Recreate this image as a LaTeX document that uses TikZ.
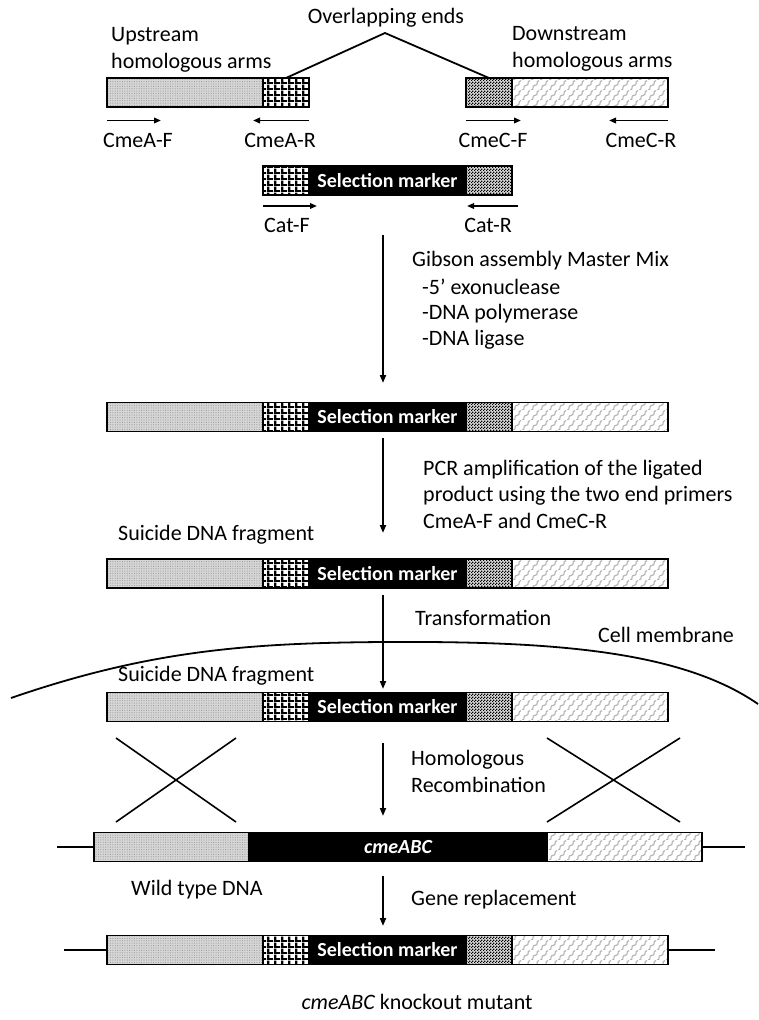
\documentclass[tikz,border=0pt]{standalone}
\usepackage{fontspec}
\setmainfont{Carlito}
\usetikzlibrary{arrows.meta,patterns.meta}

% white squares in a black grid (overlap with the upstream arm)
\tikzdeclarepattern{name=gridsq, type=uncolored,
  bounding box={(0pt,0pt) and (6.5pt,6pt)}, tile size={(6.5pt,6pt)},
  code={\fill (0pt,0pt) rectangle (6.5pt,2.2pt); \fill (0pt,0pt) rectangle (2.4pt,6pt);}}
% fine checkerboard (overlap with the downstream arm)
\tikzdeclarepattern{name=finechk, type=uncolored,
  bounding box={(0pt,0pt) and (3pt,3pt)}, tile size={(3pt,3pt)},
  code={\fill (0pt,0pt) rectangle (1.5pt,1.5pt); \fill (1.5pt,1.5pt) rectangle (3pt,3pt);}}
% wavy scales (downstream arm)
\tikzdeclarepattern{name=scales, type=uncolored,
  bounding box={(0pt,0pt) and (9pt,10pt)}, tile size={(9pt,10pt)},
  code={\draw[line width=1.2pt] (0pt,0pt) .. controls (4.5pt,0pt) and (0pt,5pt) .. (4.5pt,5pt)
        .. controls (9pt,5pt) and (4.5pt,10pt) .. (9pt,10pt);}}

\begin{document}
\begin{tikzpicture}[x=1pt,y=-1pt,
  txt/.style={font=\fontsize{22pt}{26.5pt}\selectfont, inner sep=0pt, align=left},
  seg/.style={draw, line width=1.8pt, inner sep=0pt, outer sep=0pt, minimum height=29pt, anchor=west},
  uparm/.style={seg, preaction={fill=gray!32}, pattern={Dots[distance=2.4pt,radius=0.55pt]}, pattern color=gray!80},
  ovla/.style={seg, preaction={fill=white}, pattern=gridsq, pattern color=black, minimum width=46pt},
  ovlc/.style={seg, preaction={fill=gray!30}, pattern=finechk, pattern color=black, minimum width=46pt},
  dnarm/.style={seg, preaction={fill=white}, pattern=scales, pattern color=gray!60},
  marker/.style={seg, fill=black, text=white, font=\fontsize{20pt}{24pt}\selectfont\bfseries},
  primer/.style={line width=1.8pt, -{Triangle[length=7pt,width=5.5pt]}},
  flow/.style={line width=1.8pt, -{Triangle[length=8pt,width=6pt]}},
  thinline/.style={line width=1.6pt},
]
\useasboundingbox (0,0) rectangle (759,1020);

% ---------- PCR fragments ----------
\node[uparm, minimum width=156pt] (r0u) at (107,92.5) {};
\node[ovla] (r0a) at (263,92.5) {};
\node[ovlc] (r0c) at (466,92.5) {};
\node[dnarm, minimum width=156pt] (r0d) at (512,92.5) {};

\node[txt, anchor=west] (upl) at (111,50) {Upstream\\homologous arms};
\node[txt, anchor=west] (dnl) at (512,49) {Downstream\\homologous arms};
\node[txt] (ovl) at (386,18) {Overlapping ends};
\coordinate (apex) at (385,33);
\draw[line width=1.8pt] (r0a.north) -- (apex) -- (r0c.north);

\draw[primer] ([yshift=-13.5pt]r0u.south west) -- ++(54,0);
\draw[primer] ([yshift=-13.5pt]r0a.south east) -- ++(-56,0);
\draw[primer] ([yshift=-13.5pt]r0c.south west) -- ++(55,0);
\draw[primer] ([yshift=-13.5pt]r0d.south east) -- ++(-59,0);
\node[txt] (pa1) at (138,140) {CmeA-F};
\node[txt] (pa2) at (280,140) {CmeA-R};
\node[txt] (pc1) at (493,140) {CmeC-F};
\node[txt] (pc2) at (641,140) {CmeC-R};

\node[ovla] (r1a) at (263,180.5) {};
\node[marker, minimum width=157pt] (r1m) at (309,180.5) {Selection marker};
\node[ovlc] (r1c) at (466,180.5) {};
\draw[primer] ([yshift=-11pt]r1a.south west) -- ++(54,0);
\draw[primer] ([shift={(6,11)}]r1c.south east) -- ++(-51,0);
\node[txt] (cf) at (287,225) {Cat-F};
\node[txt] (cr) at (488,225) {Cat-R};

% ---------- Gibson assembly ----------
\coordinate (a1s) at (383,235);
\coordinate (a1e) at (383,383);
\draw[flow] (a1s) -- (a1e);
\node[txt, anchor=west] (gib) at (412,261) {Gibson assembly Master Mix};
\node[txt, anchor=west] (gib1) at (422,287) {-5’ exonuclease};
\node[txt, anchor=west] (gib2) at (422,314) {-DNA polymerase};
\node[txt, anchor=west] (gib3) at (422,340) {-DNA ligase};

\node[uparm, minimum width=156pt] (r2u) at (107,417) {};
\node[ovla] (r2a) at (263,417) {};
\node[marker, minimum width=157pt] (r2m) at (309,417) {Selection marker};
\node[ovlc] (r2c) at (466,417) {};
\node[dnarm, minimum width=156pt] (r2d) at (512,417) {};

% ---------- PCR of the ligated product ----------
\coordinate (a2s) at (383,438);
\coordinate (a2e) at (383,533);
\draw[flow] (a2s) -- (a2e);
\node[txt, anchor=west] (pcr) at (423,494) {PCR amplification of the ligated\\product using the two end primers\\CmeA-F and CmeC-R};
\node[txt, anchor=west] (sui1) at (118,535) {Suicide DNA fragment};

\node[uparm, minimum width=156pt] (r3u) at (107,573.5) {};
\node[ovla] (r3a) at (263,573.5) {};
\node[marker, minimum width=157pt] (r3m) at (309,573.5) {Selection marker};
\node[ovlc] (r3c) at (466,573.5) {};
\node[dnarm, minimum width=156pt] (r3d) at (512,573.5) {};

% ---------- transformation into the cell ----------
\draw[line width=1.8pt] (11,698) .. controls (150,650) and (250,643) .. (383,642)
  .. controls (550,641) and (680,650) .. (758,704);
\node[txt, anchor=west] (memb) at (598,635) {Cell membrane};
\coordinate (a3s) at (383,595);
\coordinate (a3e) at (383,689);
\draw[flow] (a3s) -- (a3e);
\node[txt, anchor=west] (trf) at (415,618) {Transformation};
\node[txt, anchor=west] (sui2) at (118,676) {Suicide DNA fragment};

\node[uparm, minimum width=156pt] (r4u) at (107,707) {};
\node[ovla] (r4a) at (263,707) {};
\node[marker, minimum width=157pt] (r4m) at (309,707) {Selection marker};
\node[ovlc] (r4c) at (466,707) {};
\node[dnarm, minimum width=156pt] (r4d) at (512,707) {};

% ---------- crossing-over ----------
\draw[thinline] (116,738) -- (236,822);
\draw[thinline] (236,738) -- (116,822);
\draw[thinline] (547,738) -- (680,822);
\draw[thinline] (680,738) -- (547,822);
\coordinate (a4s) at (383,743);
\coordinate (a4e) at (383,816);
\draw[flow] (a4s) -- (a4e);
\node[txt, anchor=west] (hr) at (411,771.5) {Homologous\\Recombination};

% ---------- chromosome ----------
\node[uparm, minimum width=155pt] (r5u) at (94,847) {};
\node[marker, minimum width=298pt] (r5g) at (249,847) {\itshape cmeABC};
\node[dnarm, minimum width=155pt] (r5d) at (547,847) {};
\coordinate (r5l) at (57,847);
\coordinate (r5r) at (745,847);
\draw[thinline] (r5l) -- (r5u.west);
\draw[thinline] (r5d.east) -- (r5r);
\node[txt, anchor=west] (wt) at (131,890) {Wild type DNA};

\coordinate (a5s) at (383,876);
\coordinate (a5e) at (383,926);
\draw[flow] (a5s) -- (a5e);
\node[txt, anchor=west] (gr) at (411,900) {Gene replacement};

% ---------- mutant ----------
\node[uparm, minimum width=156pt] (r6u) at (107,950) {};
\node[ovla] (r6a) at (263,950) {};
\node[marker, minimum width=157pt] (r6m) at (309,950) {Selection marker};
\node[ovlc] (r6c) at (466,950) {};
\node[dnarm, minimum width=156pt] (r6d) at (512,950) {};
\coordinate (r6l) at (64,950);
\coordinate (r6r) at (715,950);
\draw[thinline] (r6l) -- (r6u.west);
\draw[thinline] (r6d.east) -- (r6r);
\node[txt] (ko) at (417,1002) {\itshape cmeABC\upshape{} knockout mutant};
\end{tikzpicture}
\end{document}
